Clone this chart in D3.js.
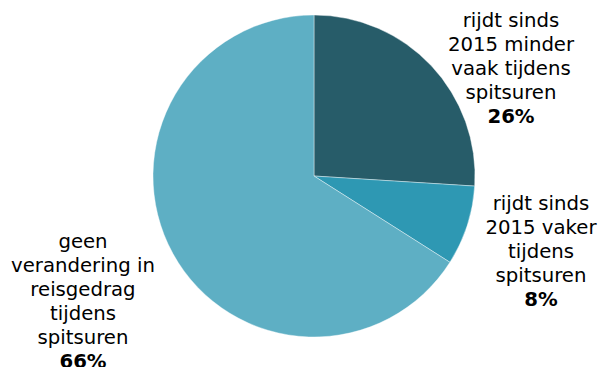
<!DOCTYPE html>
<html>
<head>
<meta charset="utf-8">
<script src="https://cdn.jsdelivr.net/npm/d3@7"></script>
<style>
  html, body { margin: 0; padding: 0; background: #fff; }
  svg { display: block; }
  text { font-family: "DejaVu Sans", Verdana, sans-serif; fill: #000; }
</style>
</head>
<body>
<svg id="chart" width="600" height="367"></svg>
<script>
// Share of drivers by change in rush-hour travel behaviour
const categories = [
  ["rijdt sinds", "2015 minder", "vaak tijdens", "spitsuren"],
  ["rijdt sinds", "2015 vaker", "tijdens", "spitsuren"],
  ["geen", "verandering in", "reisgedrag", "tijdens", "spitsuren"]
];
const values = [26, 8, 66];
const colors = ["#275c69", "#2e98b3", "#5eafc4"];
// label anchor (centre x, first baseline y) for each slice
const labelPos = [[511, 27], [541, 210], [83, 248]];

const svg = d3.select("#chart");
const cx = 314, cy = 176, r = 161;
const fontSize = 19.7, lineH = 24;

const pie = d3.pie().sort(null).value(d => d);
const arc = d3.arc().innerRadius(0).outerRadius(r);
const arcs = pie(values);

const g = svg.append("g").attr("transform", `translate(${cx},${cy})`);
g.selectAll("path")
  .data(arcs)
  .join("path")
  .attr("d", arc)
  .attr("fill", (d, i) => colors[i])
  .attr("stroke", "#ffffff")
  .attr("stroke-width", 0.4);

categories.forEach((lines, i) => {
  const [x, y] = labelPos[i];
  const t = svg.append("text")
    .attr("x", x)
    .attr("y", y)
    .attr("text-anchor", "middle")
    .style("font-size", fontSize + "px");
  lines.forEach((line, j) => {
    t.append("tspan").attr("x", x).attr("dy", j === 0 ? 0 : lineH).text(line);
  });
  t.append("tspan").attr("x", x).attr("dy", lineH)
    .style("font-weight", "bold")
    .text(values[i] + "%");
});
</script>
</body>
</html>
